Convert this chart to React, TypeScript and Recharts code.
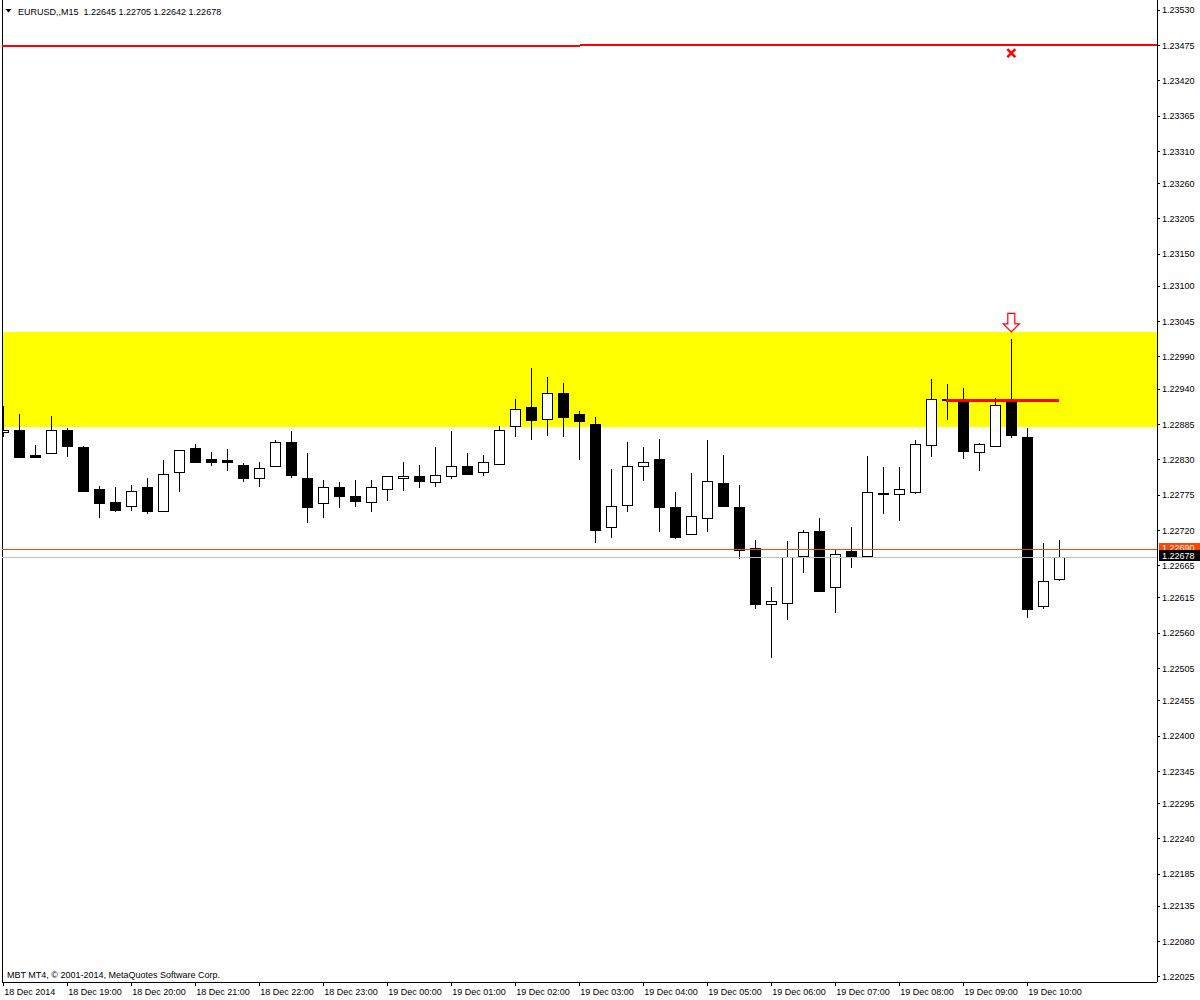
import React from 'react';
import { ComposedChart, Bar, XAxis, YAxis, ReferenceArea, ReferenceLine, ReferenceDot } from 'recharts';

// EURUSD M15 bars, 18 Dec 18:00 .. 19 Dec 10:30
const opens = [
  1.22874, 1.22877, 1.22837, 1.22840, 1.22877, 1.22850, 1.22785, 1.22764, 1.22758, 1.22788,
  1.22751, 1.22811, 1.22848, 1.22831, 1.22829, 1.22822, 1.22801, 1.22821, 1.22857, 1.22801,
  1.22762, 1.22787, 1.22774, 1.22764, 1.22784, 1.22801, 1.22804, 1.22795, 1.22804, 1.22821,
  1.22811, 1.22823, 1.22882, 1.22912, 1.22893, 1.22934, 1.22902, 1.22885, 1.22725, 1.22759,
  1.22821, 1.22831, 1.22756, 1.22714, 1.22739, 1.22794, 1.22756, 1.22692, 1.22605, 1.22607,
  1.22681, 1.22719, 1.22632, 1.22688, 1.22680, 1.22778, 1.22776, 1.22780, 1.22853, 1.22925,
  1.22922, 1.22842, 1.22851, 1.22922, 1.22866, 1.22602, 1.22645,
];
const highs = [
  1.22914, 1.22901, 1.22853, 1.22898, 1.22879, 1.22851, 1.22789, 1.22788, 1.22791, 1.22802,
  1.22830, 1.22845, 1.22855, 1.22842, 1.22847, 1.22825, 1.22827, 1.22861, 1.22875, 1.22841,
  1.22799, 1.22795, 1.22799, 1.22799, 1.22804, 1.22827, 1.22822, 1.22850, 1.22875, 1.22841,
  1.22838, 1.22883, 1.22925, 1.22973, 1.22959, 1.22950, 1.22906, 1.22897, 1.22816, 1.22858,
  1.22850, 1.22862, 1.22780, 1.22809, 1.22861, 1.22838, 1.22791, 1.22705, 1.22632, 1.22704,
  1.22721, 1.22739, 1.22689, 1.22725, 1.22836, 1.22819, 1.22819, 1.22861, 1.22956, 1.22948,
  1.22942, 1.22856, 1.22926, 1.23018, 1.22880, 1.22701, 1.22705,
];
const lows = [
  1.22866, 1.22835, 1.22834, 1.22840, 1.22835, 1.22781, 1.22740, 1.22749, 1.22751, 1.22745,
  1.22750, 1.22780, 1.22825, 1.22821, 1.22812, 1.22796, 1.22787, 1.22818, 1.22801, 1.22731,
  1.22740, 1.22755, 1.22757, 1.22749, 1.22766, 1.22782, 1.22786, 1.22788, 1.22800, 1.22807,
  1.22804, 1.22823, 1.22866, 1.22860, 1.22867, 1.22866, 1.22830, 1.22700, 1.22708, 1.22748,
  1.22797, 1.22718, 1.22706, 1.22714, 1.22718, 1.22758, 1.22676, 1.22598, 1.22522, 1.22581,
  1.22654, 1.22626, 1.22592, 1.22661, 1.22678, 1.22746, 1.22734, 1.22777, 1.22835, 1.22892,
  1.22831, 1.22813, 1.22851, 1.22864, 1.22584, 1.22598, 1.22642,
];
const closes = [
  1.22877, 1.22835, 1.22835, 1.22876, 1.22852, 1.22782, 1.22762, 1.22752, 1.22781, 1.22751,
  1.22808, 1.22845, 1.22826, 1.22826, 1.22826, 1.22801, 1.22817, 1.22857, 1.22807, 1.22756,
  1.22787, 1.22773, 1.22766, 1.22787, 1.22804, 1.22804, 1.22797, 1.22807, 1.22821, 1.22808,
  1.22826, 1.22877, 1.22909, 1.22892, 1.22934, 1.22897, 1.22891, 1.22721, 1.22758, 1.22821,
  1.22826, 1.22757, 1.22710, 1.22742, 1.22797, 1.22758, 1.22689, 1.22605, 1.22610, 1.22678,
  1.22717, 1.22626, 1.22684, 1.22679, 1.22780, 1.22776, 1.22784, 1.22854, 1.22924, 1.22923,
  1.22843, 1.22854, 1.22915, 1.22868, 1.22598, 1.22641, 1.22678,
];

const timeTickIndex = [0, 4, 8, 12, 16, 20, 24, 28, 32, 36, 40, 44, 48, 52, 56, 60, 64];
const timeTickLabels = [
  '18 Dec 2014', '18 Dec 19:00', '18 Dec 20:00', '18 Dec 21:00', '18 Dec 22:00', '18 Dec 23:00',
  '19 Dec 00:00', '19 Dec 01:00', '19 Dec 02:00', '19 Dec 03:00', '19 Dec 04:00', '19 Dec 05:00',
  '19 Dec 06:00', '19 Dec 07:00', '19 Dec 08:00', '19 Dec 09:00', '19 Dec 10:00',
];
const priceTicks = [
  1.23530, 1.23475, 1.23420, 1.23365, 1.23310, 1.23260, 1.23205, 1.23150, 1.23100, 1.23045,
  1.22990, 1.22940, 1.22885, 1.22830, 1.22775, 1.22720, 1.22665, 1.22615, 1.22560, 1.22505,
  1.22455, 1.22400, 1.22345, 1.22295, 1.22240, 1.22185, 1.22135, 1.22080, 1.22025,
];

const xDomain = [-0.081, 72.106];
const yDomain = [1.220172, 1.235456];

const zoneTop = 1.23029;
const zoneBottom = 1.22881;
const targetLeftLevel = 1.23474;
const targetRightLevel = 1.23476;
const targetBreakIndex = 36.04;
const signalLevel = 1.22922;
const signalFrom = 58.9;
const signalTo = 66.0;
const signalIndex = 63;
const crossLevel = 1.23463;
const arrowTipLevel = 1.23029;
const alertLevel = 1.22690;
const bidLevel = 1.22678;

const headerText = 'EURUSD,,M15  1.22645 1.22705 1.22642 1.22678';
const copyrightText = 'MBT MT4, \u00A9 2001-2014, MetaQuotes Software Corp.';

const FONT = "'Liberation Sans', Arial, sans-serif";

const data = opens.map((o, i) => ({
  i,
  open: o,
  high: highs[i],
  low: lows[i],
  close: closes[i],
  range: [lows[i], highs[i]],
}));

function Candle(props: any) {
  const { x, y, width, height, payload } = props;
  if (x == null || y == null || !payload) return null;
  const top = Math.min(y, y + height);
  const h = Math.abs(height);
  const { open, high, low, close } = payload;
  const k = high - low > 0 ? h / (high - low) : 0;
  const py = (v: number) => top + (high - v) * k;
  const cx = Math.floor(x + width / 2) + 0.5;
  const bull = close >= open;
  const yt = Math.round(py(Math.max(open, close)));
  const yb = Math.round(py(Math.min(open, close)));
  const bh = Math.max(yb - yt, 1);
  return (
    <g shapeRendering="crispEdges">
      <line x1={cx} x2={cx} y1={Math.round(top)} y2={Math.round(top + h)} stroke="#000" strokeWidth={1} />
      <rect x={cx - 5} y={yt + 0.5} width={10} height={bh} fill={bull ? '#fff' : '#000'} stroke="#000" strokeWidth={1} />
    </g>
  );
}

function PriceTick(props: any) {
  const { x, y, payload } = props;
  return (
    <text x={x} y={y} dy="0.35em" fontSize={9} fontFamily={FONT} fill="#000" textAnchor="start">
      {Number(payload.value).toFixed(5)}
    </text>
  );
}

function TimeTick(props: any) {
  const { x, y, payload } = props;
  const idx = timeTickIndex.indexOf(payload.value);
  return (
    <text x={x + 1} y={y} dy={6.5} fontSize={9} fontFamily={FONT} fill="#000" textAnchor="start">
      {idx >= 0 ? timeTickLabels[idx] : ''}
    </text>
  );
}

function priceTag(text: string, bg: string) {
  return (p: any) => {
    const vb = p && p.viewBox;
    if (!vb) return null;
    const x = vb.x + vb.width + 2;
    const y = vb.y;
    return (
      <g>
        <rect x={x} y={y - 7} width={41} height={11} fill={bg} shapeRendering="crispEdges" />
        <text x={x + 3} y={y - 2} dy="0.35em" fontSize={9} fontFamily={FONT} fill="#fff">
          {text}
        </text>
      </g>
    );
  };
}

function CrossShape(p: any) {
  const { cx, cy } = p;
  if (cx == null) return null;
  return (
    <g>
      <line x1={cx - 4} y1={cy - 4} x2={cx + 4} y2={cy + 4} stroke="#FF0000" strokeWidth={2.5} />
      <line x1={cx - 4} y1={cy + 4} x2={cx + 4} y2={cy - 4} stroke="#FF0000" strokeWidth={2.5} />
    </g>
  );
}

function ArrowShape(p: any) {
  const { cx, cy } = p;
  if (cx == null) return null;
  const pts = [
    [cx - 3.5, cy - 18.5],
    [cx + 3.5, cy - 18.5],
    [cx + 3.5, cy - 8],
    [cx + 8, cy - 8],
    [cx, cy],
    [cx - 8, cy - 8],
    [cx - 3.5, cy - 8],
  ]
    .map((q) => q.join(','))
    .join(' ');
  return <polygon points={pts} fill="#fff" stroke="#FF0000" strokeWidth={1.2} />;
}

export default function App() {
  return (
    <div style={{ position: 'absolute', left: 0, top: 0, width: 1200, height: 1000, background: '#fff' }}>
      <ComposedChart
        width={1200}
        height={1000}
        data={data}
        margin={{ top: 0, right: 0, bottom: 0, left: 2 }}
      >
        <XAxis
          dataKey="i"
          type="number"
          domain={xDomain}
          allowDataOverflow
          ticks={timeTickIndex}
          interval={0}
          height={18}
          tickSize={4}
          tickMargin={2}
          axisLine={{ stroke: '#000', shapeRendering: 'crispEdges' }}
          tickLine={{ stroke: '#000', shapeRendering: 'crispEdges' }}
          tick={<TimeTick />}
        />
        <YAxis
          orientation="right"
          type="number"
          domain={yDomain}
          allowDataOverflow
          ticks={priceTicks}
          interval={0}
          width={43}
          tickSize={3}
          tickMargin={2}
          axisLine={{ stroke: '#000', shapeRendering: 'crispEdges' }}
          tickLine={{ stroke: '#000', shapeRendering: 'crispEdges' }}
          tick={<PriceTick />}
        />
        <ReferenceArea y1={zoneBottom} y2={zoneTop} fill="#FFFF00" fillOpacity={1} stroke="none" shapeRendering="crispEdges" />
        <ReferenceLine x={xDomain[0]} stroke="#000" strokeWidth={1} shapeRendering="crispEdges" />
        <ReferenceLine
          y={alertLevel}
          stroke="#FF4500"
          strokeWidth={1}
          shapeRendering="crispEdges"
          label={priceTag('1.22690', '#FF4500')}
        />
        <ReferenceLine
          y={bidLevel}
          stroke="#C0C0C0"
          strokeWidth={1}
          shapeRendering="crispEdges"
          label={priceTag('1.22678', '#000')}
        />
        <Bar dataKey="range" barSize={11} isAnimationActive={false} shape={(p: any) => <Candle {...p} />} />
        <ReferenceLine
          segment={[
            { x: xDomain[0], y: targetLeftLevel },
            { x: targetBreakIndex, y: targetLeftLevel },
          ]}
          stroke="#FF0000"
          strokeWidth={2}
          shapeRendering="crispEdges"
        />
        <ReferenceLine
          segment={[
            { x: targetBreakIndex, y: targetRightLevel },
            { x: xDomain[1], y: targetRightLevel },
          ]}
          stroke="#FF0000"
          strokeWidth={2}
          shapeRendering="crispEdges"
        />
        <ReferenceLine
          segment={[
            { x: signalFrom, y: signalLevel },
            { x: signalTo, y: signalLevel },
          ]}
          stroke="#FF0000"
          strokeWidth={3}
          shapeRendering="crispEdges"
        />
        <ReferenceDot x={signalIndex} y={crossLevel} r={5} shape={(p: any) => <CrossShape {...p} />} />
        <ReferenceDot x={signalIndex} y={arrowTipLevel} r={5} shape={(p: any) => <ArrowShape {...p} />} />
      </ComposedChart>
      <svg width={1200} height={1000} style={{ position: 'absolute', left: 0, top: 0, pointerEvents: 'none' }}>
        <polygon points="5.5,9 11.5,9 8.5,12.5" fill="#000" />
        <text x={18} y={14.5} fontSize={9} fontFamily={FONT} fill="#000" style={{ whiteSpace: 'pre' }}>
          {headerText}
        </text>
        <text x={7} y={978} fontSize={9} fontFamily={FONT} fill="#000">
          {copyrightText}
        </text>
      </svg>
    </div>
  );
}
